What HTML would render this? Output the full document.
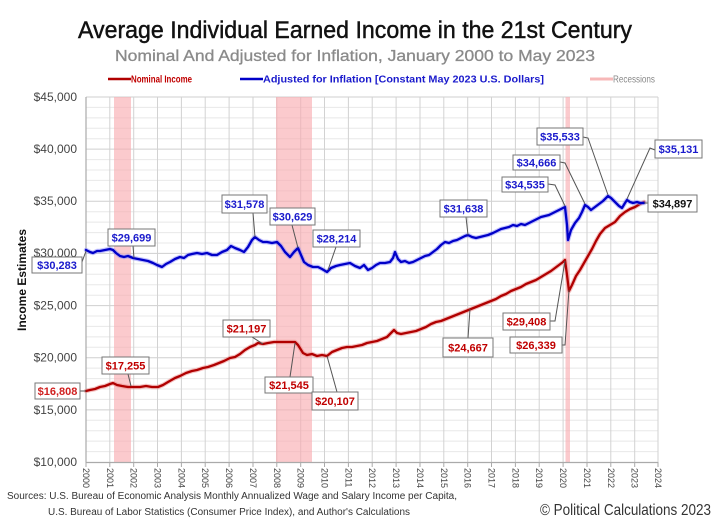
<!DOCTYPE html>
<html><head><meta charset="utf-8"><style>
html,body{margin:0;padding:0;background:#fff;}
svg{display:block;font-family:"Liberation Sans",sans-serif;}
</style></head><body>
<svg width="720" height="523" viewBox="0 0 720 523" xmlns="http://www.w3.org/2000/svg">
<rect width="720" height="523" fill="#fff"/>
<!-- titles -->
<text x="355" y="38" font-size="24" text-anchor="middle" fill="#111" stroke="#111" stroke-width="0.45" textLength="554" lengthAdjust="spacingAndGlyphs">Average Individual Earned Income in the 21st Century</text>
<text x="355" y="61" font-size="16" text-anchor="middle" fill="#8a8a8a" stroke="#8a8a8a" stroke-width="0.3" textLength="480" lengthAdjust="spacingAndGlyphs">Nominal And Adjusted for Inflation, January 2000 to May 2023</text>
<!-- legend -->
<line x1="108" y1="79" x2="131" y2="79" stroke="#b00000" stroke-width="2.5"/>
<text x="131" y="82.5" font-size="10" font-weight="bold" fill="#c00000" textLength="61" lengthAdjust="spacingAndGlyphs">Nominal Income</text>
<line x1="240" y1="79" x2="263" y2="79" stroke="#0000c8" stroke-width="2.5"/>
<text x="263" y="82.5" font-size="10" font-weight="bold" fill="#1a1acc" textLength="281" lengthAdjust="spacingAndGlyphs">Adjusted for Inflation [Constant May 2023 U.S. Dollars]</text>
<line x1="590" y1="79" x2="613" y2="79" stroke="#f7b8b8" stroke-width="3"/>
<text x="613" y="82.5" font-size="10" fill="#888" textLength="42" lengthAdjust="spacingAndGlyphs">Recessions</text>

<!-- minor horizontal grid -->
<g stroke="#e8e8e8" stroke-width="1">
<line x1="86" x2="658" y1="107.4" y2="107.4"/><line x1="86" x2="658" y1="117.9" y2="117.9"/><line x1="86" x2="658" y1="128.3" y2="128.3"/><line x1="86" x2="658" y1="138.7" y2="138.7"/>
<line x1="86" x2="658" y1="159.6" y2="159.6"/><line x1="86" x2="658" y1="170.0" y2="170.0"/><line x1="86" x2="658" y1="180.4" y2="180.4"/><line x1="86" x2="658" y1="190.9" y2="190.9"/>
<line x1="86" x2="658" y1="211.7" y2="211.7"/><line x1="86" x2="658" y1="222.1" y2="222.1"/><line x1="86" x2="658" y1="232.6" y2="232.6"/><line x1="86" x2="658" y1="243.0" y2="243.0"/>
<line x1="86" x2="658" y1="263.9" y2="263.9"/><line x1="86" x2="658" y1="274.3" y2="274.3"/><line x1="86" x2="658" y1="284.7" y2="284.7"/><line x1="86" x2="658" y1="295.2" y2="295.2"/>
<line x1="86" x2="658" y1="316.0" y2="316.0"/><line x1="86" x2="658" y1="326.4" y2="326.4"/><line x1="86" x2="658" y1="336.9" y2="336.9"/><line x1="86" x2="658" y1="347.3" y2="347.3"/>
<line x1="86" x2="658" y1="368.1" y2="368.1"/><line x1="86" x2="658" y1="378.6" y2="378.6"/><line x1="86" x2="658" y1="389.0" y2="389.0"/><line x1="86" x2="658" y1="399.4" y2="399.4"/>
<line x1="86" x2="658" y1="420.3" y2="420.3"/><line x1="86" x2="658" y1="430.7" y2="430.7"/><line x1="86" x2="658" y1="441.1" y2="441.1"/><line x1="86" x2="658" y1="451.6" y2="451.6"/>
</g>
<!-- major horizontal grid -->
<g stroke="#cfcfcf" stroke-width="1">
<line x1="86" x2="658" y1="97" y2="97"/><line x1="86" x2="658" y1="149.1" y2="149.1"/><line x1="86" x2="658" y1="201.3" y2="201.3"/><line x1="86" x2="658" y1="253.4" y2="253.4"/><line x1="86" x2="658" y1="305.6" y2="305.6"/><line x1="86" x2="658" y1="357.7" y2="357.7"/><line x1="86" x2="658" y1="409.9" y2="409.9"/>
</g>
<!-- vertical grid -->
<g stroke="#d2d2d2" stroke-width="1">
<line y1="97" y2="462" x1="109.8" x2="109.8"/><line y1="97" y2="462" x1="133.7" x2="133.7"/><line y1="97" y2="462" x1="157.5" x2="157.5"/><line y1="97" y2="462" x1="181.4" x2="181.4"/><line y1="97" y2="462" x1="205.2" x2="205.2"/><line y1="97" y2="462" x1="229.1" x2="229.1"/><line y1="97" y2="462" x1="253" x2="253"/><line y1="97" y2="462" x1="276.8" x2="276.8"/><line y1="97" y2="462" x1="300.7" x2="300.7"/><line y1="97" y2="462" x1="324.5" x2="324.5"/><line y1="97" y2="462" x1="348.4" x2="348.4"/><line y1="97" y2="462" x1="372.2" x2="372.2"/><line y1="97" y2="462" x1="396.1" x2="396.1"/><line y1="97" y2="462" x1="420" x2="420"/><line y1="97" y2="462" x1="443.8" x2="443.8"/><line y1="97" y2="462" x1="467.7" x2="467.7"/><line y1="97" y2="462" x1="491.5" x2="491.5"/><line y1="97" y2="462" x1="515.4" x2="515.4"/><line y1="97" y2="462" x1="539.2" x2="539.2"/><line y1="97" y2="462" x1="563.1" x2="563.1"/><line y1="97" y2="462" x1="587" x2="587"/><line y1="97" y2="462" x1="610.8" x2="610.8"/><line y1="97" y2="462" x1="634.7" x2="634.7"/><line y1="97" y2="462" x1="658" x2="658"/>
</g>
<!-- recessions -->
<g fill="#f9a9ae" opacity="0.62">
<rect x="114" y="97" width="17" height="365"/>
<rect x="276" y="97" width="36" height="365"/>
<rect x="565.5" y="97" width="4.5" height="365"/>
</g>
<!-- axes -->
<line x1="86" y1="97" x2="86" y2="462.5" stroke="#aaa" stroke-width="1.2"/>
<line x1="86" y1="462.5" x2="658" y2="462.5" stroke="#aaa" stroke-width="1.2"/>
<g stroke="#aaa" stroke-width="1">
<line y1="462" y2="467" x1="86" x2="86"/><line y1="462" y2="467" x1="109.8" x2="109.8"/><line y1="462" y2="467" x1="133.7" x2="133.7"/><line y1="462" y2="467" x1="157.5" x2="157.5"/><line y1="462" y2="467" x1="181.4" x2="181.4"/><line y1="462" y2="467" x1="205.2" x2="205.2"/><line y1="462" y2="467" x1="229.1" x2="229.1"/><line y1="462" y2="467" x1="253" x2="253"/><line y1="462" y2="467" x1="276.8" x2="276.8"/><line y1="462" y2="467" x1="300.7" x2="300.7"/><line y1="462" y2="467" x1="324.5" x2="324.5"/><line y1="462" y2="467" x1="348.4" x2="348.4"/><line y1="462" y2="467" x1="372.2" x2="372.2"/><line y1="462" y2="467" x1="396.1" x2="396.1"/><line y1="462" y2="467" x1="420" x2="420"/><line y1="462" y2="467" x1="443.8" x2="443.8"/><line y1="462" y2="467" x1="467.7" x2="467.7"/><line y1="462" y2="467" x1="491.5" x2="491.5"/><line y1="462" y2="467" x1="515.4" x2="515.4"/><line y1="462" y2="467" x1="539.2" x2="539.2"/><line y1="462" y2="467" x1="563.1" x2="563.1"/><line y1="462" y2="467" x1="587" x2="587"/><line y1="462" y2="467" x1="610.8" x2="610.8"/><line y1="462" y2="467" x1="634.7" x2="634.7"/><line y1="462" y2="467" x1="658" x2="658"/>
</g>
<!-- y labels -->
<g font-size="12" fill="#444" text-anchor="end">
<text x="77" y="101">$45,000</text><text x="77" y="153">$40,000</text><text x="77" y="205">$35,000</text><text x="77" y="257">$30,000</text><text x="77" y="309.5">$25,000</text><text x="77" y="361.5">$20,000</text><text x="77" y="414">$15,000</text><text x="77" y="466">$10,000</text>
</g>
<text transform="translate(26,280) rotate(-90)" font-size="12" font-weight="bold" fill="#111" text-anchor="middle">Income Estimates</text>
<!-- x labels -->
<g font-size="9" fill="#444">
<text transform="translate(83,468) rotate(90)">2000</text><text transform="translate(106.8,468) rotate(90)">2001</text><text transform="translate(130.7,468) rotate(90)">2002</text><text transform="translate(154.5,468) rotate(90)">2003</text><text transform="translate(178.4,468) rotate(90)">2004</text><text transform="translate(202.2,468) rotate(90)">2005</text><text transform="translate(226.1,468) rotate(90)">2006</text><text transform="translate(250,468) rotate(90)">2007</text><text transform="translate(273.8,468) rotate(90)">2008</text><text transform="translate(297.7,468) rotate(90)">2009</text><text transform="translate(321.5,468) rotate(90)">2010</text><text transform="translate(345.4,468) rotate(90)">2011</text><text transform="translate(369.2,468) rotate(90)">2012</text><text transform="translate(393.1,468) rotate(90)">2013</text><text transform="translate(417,468) rotate(90)">2014</text><text transform="translate(440.8,468) rotate(90)">2015</text><text transform="translate(464.7,468) rotate(90)">2016</text><text transform="translate(488.5,468) rotate(90)">2017</text><text transform="translate(512.4,468) rotate(90)">2018</text><text transform="translate(536.2,468) rotate(90)">2019</text><text transform="translate(560.1,468) rotate(90)">2020</text><text transform="translate(584,468) rotate(90)">2021</text><text transform="translate(607.8,468) rotate(90)">2022</text><text transform="translate(631.7,468) rotate(90)">2023</text><text transform="translate(655,468) rotate(90)">2024</text>
</g>

<!-- series -->
<g fill="none" stroke-linejoin="round" stroke-linecap="round">
<polyline stroke="#e88" stroke-width="4.5" opacity="0.5" points="86,391 90,390 95,389 100,387 105,386 110,384 113,383 117,385 122,386 128,387 133,387 140,387 146,386 152,387 158,387 163,385 168,382 175,378 180,376 186,373 192,371 197,370 203,368 208,367 214,365 219,363 224,361 230,358 235,357 240,354 245,350 250,347 255,345 258,343 263,344 268,343 274,342 280,342 285,342 290,342 295,342 298,345 303,353 307,355 312,354 317,356 322,355 327,356 332,352 337,350 342,348 347,347 352,347 357,346 362,345 367,343 372,342 377,341 382,339 387,337 391,333 394,330 397,333 401,334 406,333 411,332 416,331 421,329 426,327 431,324 436,322 441,321 446,319 451,317 456,315 461,313 466,311 471,309 476,307 481,305 486,303 491,301 496,299 501,296 506,294 511,291 516,289 521,287 526,284 531,282 536,280 541,277 546,274 551,271 555,268 559,265 563,262 565,260 567,275 569,291 572,285 576,276 580,270 584,263 588,256 592,249 596,241 600,234 605,228 610,225 615,222 620,216 625,212 630,209 635,207 640,204 644,202"/>
<polyline stroke="#b00000" stroke-width="2.3" points="86,391 90,390 95,389 100,387 105,386 110,384 113,383 117,385 122,386 128,387 133,387 140,387 146,386 152,387 158,387 163,385 168,382 175,378 180,376 186,373 192,371 197,370 203,368 208,367 214,365 219,363 224,361 230,358 235,357 240,354 245,350 250,347 255,345 258,343 263,344 268,343 274,342 280,342 285,342 290,342 295,342 298,345 303,353 307,355 312,354 317,356 322,355 327,356 332,352 337,350 342,348 347,347 352,347 357,346 362,345 367,343 372,342 377,341 382,339 387,337 391,333 394,330 397,333 401,334 406,333 411,332 416,331 421,329 426,327 431,324 436,322 441,321 446,319 451,317 456,315 461,313 466,311 471,309 476,307 481,305 486,303 491,301 496,299 501,296 506,294 511,291 516,289 521,287 526,284 531,282 536,280 541,277 546,274 551,271 555,268 559,265 563,262 565,260 567,275 569,291 572,285 576,276 580,270 584,263 588,256 592,249 596,241 600,234 605,228 610,225 615,222 620,216 625,212 630,209 635,207 640,204 644,202"/>
<polyline stroke="#8888ff" stroke-width="4.5" opacity="0.5" points="86,250 90,252 93,253 97,251 100,251 105,250 110,249 113,250 116,253 120,256 124,257 128,256 133,258 138,259 143,260 148,261 153,263 157,265 162,267 166,264 170,262 175,259 180,257 184,258 188,255 192,254 197,253 202,254 207,253 212,255 217,255 222,252 227,250 231,246 235,248 240,250 244,252 248,247 252,240 255,237 259,240 263,242 267,242 272,243 277,242 281,246 285,252 290,257 294,252 298,248 301,255 304,262 308,265 313,267 318,267 322,269 327,272 331,268 336,266 340,265 345,264 350,263 355,266 360,268 364,265 368,270 372,268 376,265 380,263 385,263 390,262 393,258 395,252 398,259 401,262 405,261 409,263 413,262 417,260 421,258 425,256 429,255 433,252 437,249 441,245 445,242 449,243 453,241 457,240 461,238 465,236 468,235 472,237 476,238 480,237 484,236 488,235 493,233 497,231 501,229 505,228 509,227 513,225 517,226 521,224 525,225 529,223 533,221 537,219 541,217 545,216 549,215 553,213 557,211 561,209 565,207 567,225 568,240 571,230 575,223 579,218 582,212 585,205 588,207 591,210 595,207 599,204 603,201 606,198 608,196 611,198 615,202 619,206 622,208 625,203 627,200 630,202 633,203 637,202 640,203 644,203"/>
<polyline stroke="#0000c8" stroke-width="2.3" points="86,250 90,252 93,253 97,251 100,251 105,250 110,249 113,250 116,253 120,256 124,257 128,256 133,258 138,259 143,260 148,261 153,263 157,265 162,267 166,264 170,262 175,259 180,257 184,258 188,255 192,254 197,253 202,254 207,253 212,255 217,255 222,252 227,250 231,246 235,248 240,250 244,252 248,247 252,240 255,237 259,240 263,242 267,242 272,243 277,242 281,246 285,252 290,257 294,252 298,248 301,255 304,262 308,265 313,267 318,267 322,269 327,272 331,268 336,266 340,265 345,264 350,263 355,266 360,268 364,265 368,270 372,268 376,265 380,263 385,263 390,262 393,258 395,252 398,259 401,262 405,261 409,263 413,262 417,260 421,258 425,256 429,255 433,252 437,249 441,245 445,242 449,243 453,241 457,240 461,238 465,236 468,235 472,237 476,238 480,237 484,236 488,235 493,233 497,231 501,229 505,228 509,227 513,225 517,226 521,224 525,225 529,223 533,221 537,219 541,217 545,216 549,215 553,213 557,211 561,209 565,207 567,225 568,240 571,230 575,223 579,218 582,212 585,205 588,207 591,210 595,207 599,204 603,201 606,198 608,196 611,198 615,202 619,206 622,208 625,203 627,200 630,202 633,203 637,202 640,203 644,203"/>
</g>

<!-- connectors -->
<g fill="none" stroke="#555" stroke-width="1">
<polyline points="82,262 86,251"/>
<polyline points="133,246 134,258"/>
<polyline points="80,391 86,391"/>
<polyline points="128,374 131,386"/>
<polyline points="252,337 263,344"/>
<polyline points="290,377 295,343"/>
<polyline points="337,392 327,356"/>
<polyline points="253,213 255,237"/>
<polyline points="292,225 298,248"/>
<polyline points="336,247 328,270"/>
<polyline points="466,217 468,235"/>
<polyline points="468,338 470,309"/>
<polyline points="550,321 555,321 565,261"/>
<polyline points="562,345 565,345 569,290"/>
<polyline points="548,184 555,185 565,206"/>
<polyline points="560,162 565,163 585,204"/>
<polyline points="583,137 588,138 608,195"/>
<polyline points="655,150 650,148 627,199"/>
<polyline points="648,203 644,203"/>
</g>
<!-- annotation boxes -->
<g fill="#fff" stroke="#777" stroke-width="1">
<rect x="32" y="257" width="50" height="16"/>
<rect x="108" y="229" width="47" height="17"/>
<rect x="35" y="383" width="45" height="16"/>
<rect x="102" y="357" width="47" height="17"/>
<rect x="223" y="320" width="47" height="17"/>
<rect x="265" y="377" width="48" height="16"/>
<rect x="312" y="392" width="46" height="18"/>
<rect x="222" y="195" width="45" height="18"/>
<rect x="270" y="208" width="45" height="17"/>
<rect x="313" y="230" width="47" height="17"/>
<rect x="440" y="200" width="47" height="17"/>
<rect x="443" y="338" width="50" height="19"/>
<rect x="503" y="313" width="47" height="17"/>
<rect x="510" y="337" width="52" height="16"/>
<rect x="502" y="177" width="46" height="15"/>
<rect x="513" y="155" width="47" height="15"/>
<rect x="537" y="128" width="46" height="17"/>
<rect x="655" y="140" width="47" height="18"/>
<rect x="648" y="195" width="49" height="17"/>
</g>
<g font-size="11" font-weight="bold" text-anchor="middle">
<g fill="#1a1acc">
<text x="57" y="269">$30,283</text>
<text x="131.5" y="241.5">$29,699</text>
<text x="244.5" y="208">$31,578</text>
<text x="292.5" y="220.5">$30,629</text>
<text x="336.5" y="242.5">$28,214</text>
<text x="463.5" y="212.5">$31,638</text>
<text x="525" y="188.5">$34,535</text>
<text x="536.5" y="166.5">$34,666</text>
<text x="560" y="140.5">$35,533</text>
<text x="678.5" y="153">$35,131</text>
</g>
<g fill="#c00000">
<text x="57.5" y="395" fill="#d02020">$16,808</text>
<text x="125.5" y="369.5">$17,255</text>
<text x="246.5" y="332.5">$21,197</text>
<text x="289" y="389">$21,545</text>
<text x="335" y="405">$20,107</text>
<text x="468" y="351.5">$24,667</text>
<text x="526.5" y="325.5">$29,408</text>
<text x="536" y="349">$26,339</text>
</g>
<text x="672.5" y="207.5" fill="#111">$34,897</text>
</g>

<!-- footer -->
<text x="7" y="499" font-size="10" fill="#333" textLength="450" lengthAdjust="spacingAndGlyphs">Sources: U.S. Bureau of Economic Analysis Monthly Annualized Wage and Salary Income per Capita,</text>
<text x="48" y="515" font-size="10" fill="#333" textLength="362" lengthAdjust="spacingAndGlyphs">U.S. Bureau of Labor Statistics (Consumer  Price Index), and Author's Calculations</text>
<text x="540" y="515" font-size="16" fill="#333" textLength="171" lengthAdjust="spacingAndGlyphs">© Political Calculations 2023</text>
</svg>
</body></html>
